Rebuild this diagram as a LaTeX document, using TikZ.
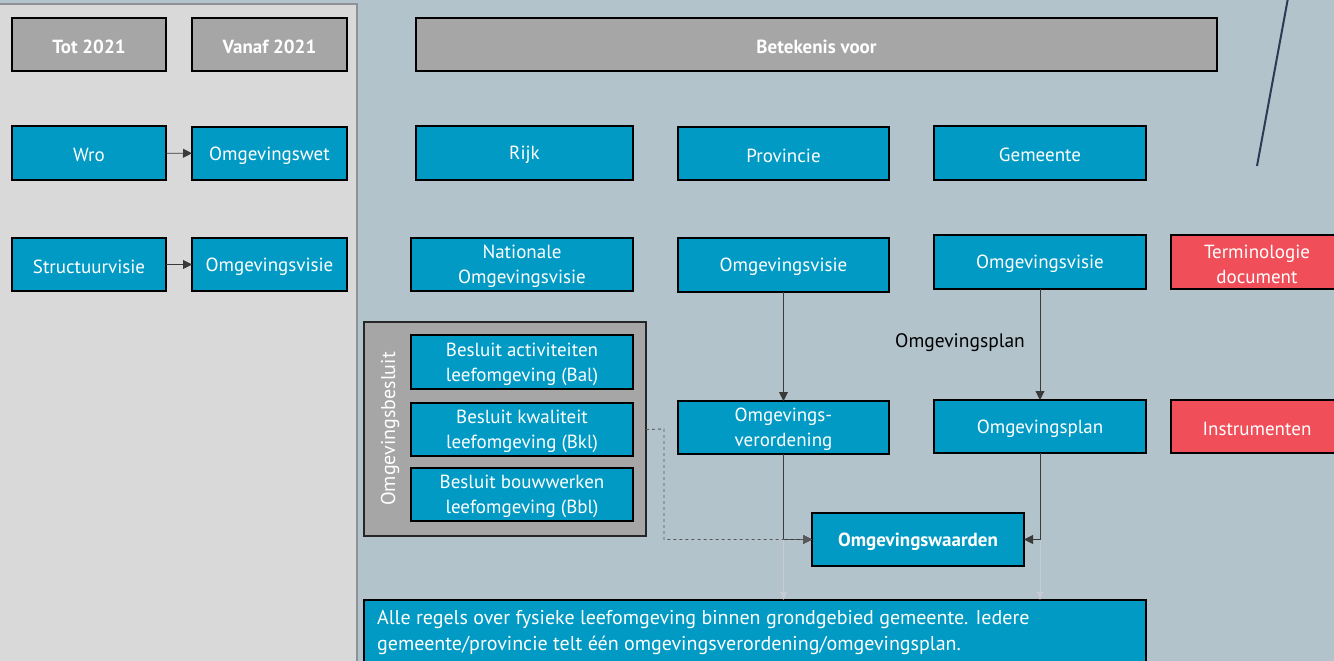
\documentclass[tikz,border=0pt]{standalone}
\usepackage{fontspec}
\setmainfont{PT Sans}
\usetikzlibrary{arrows.meta}
\definecolor{bg}{HTML}{B3C3CC}
\definecolor{panel}{HTML}{D9D9D9}
\definecolor{panelborder}{HTML}{8E9296}
\definecolor{blu}{HTML}{009AC4}
\definecolor{gry}{HTML}{A6A6A6}
\definecolor{rd}{HTML}{F04F59}
\definecolor{navy}{HTML}{2B3A55}
\definecolor{faint}{HTML}{C4CCD1}
\definecolor{conn}{HTML}{3A3A3A}
\newcommand\mybox[7]{%
  \node[#6, minimum width={(#4)-(#2)}, minimum height={(#5)-(#3)}] (#1) at ({((#2)+(#4))/2},{((#3)+(#5))/2}) {};%
  \node[#6, draw=none, fill=none, yshift=-2pt] (#1-t) at (#1.center) {#7};}
\begin{document}
\begin{tikzpicture}[x=1pt,y=-1pt,
  base/.style={draw=black, line width=1.4pt, inner sep=0pt, outer sep=0pt, text=white, align=center,
    font=\fontsize{19}{25}\selectfont},
  bluebox/.style={base, fill=blu},
  greybox/.style={base, fill=gry, font=\fontsize{19}{25}\selectfont\bfseries},
  redbox/.style={base, fill=rd},
  groupbox/.style={draw=black!85, line width=1.4pt, fill=gry, inner sep=0pt, outer sep=0pt},
  tip/.style={-{Triangle[length=9pt,width=9pt]}},
  conline/.style={draw=conn, line width=0.9pt},
  faintline/.style={draw=faint, line width=0.9pt, -{Triangle[length=8pt,width=7pt]}},
]
\useasboundingbox (0,0) rectangle (1334,661);
\clip (0,0) rectangle (1334,661);
\fill[bg] (0,0) rectangle (1334,661);
\fill[panel] (0,4) rectangle (357,670);
\draw[panelborder, line width=2pt] (-2,4) -- (357,4) -- (357,670);
% diagonal line
\coordinate (d1) at (1288,-2);
\coordinate (d2) at (1257,166);
\draw[navy, line width=2pt] (d1) -- (d2);
% header row
\mybox{tot}{12}{18}{166}{71}{greybox}{Tot 2021}
\mybox{vanaf}{192}{18}{347}{71}{greybox}{Vanaf 2021}
\mybox{bet}{416}{18}{1217}{71}{greybox}{Betekenis voor}
% row 2
\mybox{wro}{12}{126}{166}{180}{bluebox}{Wro}
\mybox{owet}{192}{127}{347}{180}{bluebox}{Omgevingswet}
\mybox{rijk}{416}{126}{633}{180}{bluebox}{Rijk}
\mybox{prov}{678}{127}{889}{180}{bluebox}{Provincie}
\mybox{gem}{934}{126}{1146}{180}{bluebox}{Gemeente}
% row 3
\mybox{struct}{12}{238}{166}{291}{bluebox}{Structuurvisie}
\mybox{ovisie}{192}{238}{347}{291}{bluebox}{Omgevingsvisie}
\mybox{nat}{411}{238}{633}{291}{bluebox}{Nationale\\Omgevingsvisie}
\mybox{pvisie}{678}{238}{889}{292}{bluebox}{Omgevingsvisie}
\mybox{gvisie}{934}{235}{1146}{289}{bluebox}{Omgevingsvisie}
\mybox{term}{1171}{235}{1352}{289}{redbox}{\hspace*{-9pt}Terminologie\\\hspace*{-9pt}document}
% group
\mybox{grp}{364}{322}{646}{536}{groupbox}{}
\node[rotate=90, text=white, font=\fontsize{20}{20}\selectfont] (grplabel) at (390,429) {Omgevingsbesluit};
\mybox{bal}{411}{335}{633}{389}{bluebox}{Besluit activiteiten\\leefomgeving (Bal)}
\mybox{bkl}{411}{403}{633}{456}{bluebox}{Besluit kwaliteit\\leefomgeving (Bkl)}
\mybox{bbl}{411}{468}{633}{521}{bluebox}{Besluit bouwwerken\\leefomgeving (Bbl)}
% row instruments
\mybox{verord}{678}{401}{889}{454}{bluebox}{Omgevings-\\verordening}
\mybox{plan}{934}{400}{1146}{453}{bluebox}{Omgevingsplan}
\mybox{instr}{1171}{400}{1352}{453}{redbox}{\hspace*{-9pt}Instrumenten}
\mybox{waard}{812}{513}{1024}{566}{bluebox, font=\fontsize{19}{25}\selectfont\bfseries}{Omgevingswaarden}
\node[font=\fontsize{19.5}{25}\selectfont, text=black] (planlabel) at (960,343) {Omgevingsplan};
% bottom box
\mybox{bottom}{364}{600}{1146}{690}{bluebox}{}
\node[anchor=north west, align=left, text=white, inner sep=0pt, font=\fontsize{20}{26}\selectfont] (btxt) at (377,610)
  {Alle regels over fysieke leefomgeving binnen grondgebied gemeente. Iedere\\gemeente/provincie telt één omgevingsverordening/omgevingsplan.};
% connectors
\draw[conline, tip] (wro) -- (owet);
\draw[conline, tip] (struct) -- (ovisie);
\draw[conline, tip] (pvisie.south -| verord.north) -- (verord.north);
\draw[conline, tip] (gvisie.south) -- (plan.north);
\coordinate (vdrop) at (verord.south |- waard.west);
\coordinate (pdrop) at (plan.south |- waard.east);
\draw[faintline] (vdrop) -- (vdrop |- bottom.north);
\draw[faintline] (pdrop) -- (pdrop |- bottom.north);
\draw[conline] (verord.south) -- (vdrop);
\draw[conline, tip] (vdrop) -- (waard.west);
\draw[conline, tip] (plan.south) |- (waard.east);
\coordinate (dstart) at (grp.east |- bkl.east);
\coordinate (dbend) at (664,429);
\draw[conline, dashed, draw=black!65, tip] (dstart) -- (dbend) |- (waard.west);
\end{tikzpicture}
\end{document}
